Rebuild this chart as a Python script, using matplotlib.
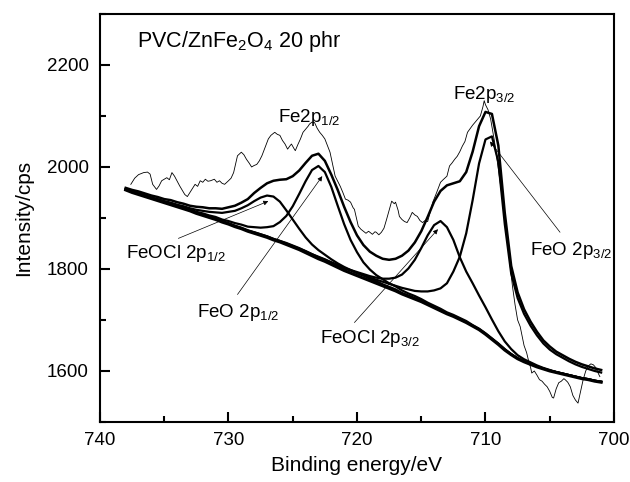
import numpy as np
import matplotlib.pyplot as plt
from matplotlib.ticker import MultipleLocator

plt.rcParams['font.family'] = ['Liberation Sans', 'DejaVu Sans']
plt.rcParams['mathtext.fontset'] = 'custom'
plt.rcParams['mathtext.rm'] = 'Liberation Sans'
plt.rcParams['mathtext.it'] = 'Liberation Sans'

# --- Data ---
# binding energy grid of the fitted curves, eV
energy = [738.0, 737.5, 737.0, 736.5, 736.0, 735.5, 735.0, 734.5, 734.0, 733.5,
          733.0, 732.5, 732.0, 731.5, 731.0, 730.5, 730.0, 729.5, 729.0, 728.5,
          728.0, 727.5, 727.0, 726.5, 726.0, 725.5, 725.0, 724.5, 724.0, 723.5,
          723.0, 722.5, 722.0, 721.5, 721.0, 720.5, 720.0, 719.5, 719.0, 718.5,
          718.0, 717.5, 717.0, 716.5, 716.0, 715.5, 715.0, 714.5, 714.0, 713.5,
          713.0, 712.5, 712.0, 711.5, 711.0, 710.5, 710.0, 709.5, 709.0, 708.5,
          708.0, 707.5, 707.0, 706.5, 706.0, 705.5, 705.0, 704.5, 704.0, 703.5,
          703.0, 702.5, 702.0, 701.5, 701.0]

background = [1955, 1950, 1946, 1942, 1938, 1934, 1930, 1926, 1922, 1918,
              1914, 1909, 1905, 1901, 1897, 1892, 1888, 1883, 1879, 1874,
              1870, 1866, 1862, 1857, 1853, 1848, 1843, 1838, 1832, 1826,
              1820, 1815, 1809, 1803, 1797, 1792, 1787, 1782, 1777, 1772,
              1767, 1762, 1757, 1751, 1746, 1741, 1736, 1730, 1724, 1718,
              1712, 1707, 1701, 1695, 1688, 1681, 1672, 1662, 1652, 1641,
              1632, 1624, 1618, 1613, 1608, 1604, 1600, 1597, 1594, 1591,
              1588, 1585, 1583, 1580, 1578]

feocl_1_2 = [1956, 1951, 1948, 1944, 1940, 1937, 1933, 1930, 1926, 1923,
             1919, 1916, 1914, 1912, 1911, 1910, 1912, 1914, 1919, 1925,
             1933, 1940, 1944, 1942, 1932, 1915, 1897, 1879, 1862, 1848,
             1837, 1828, 1819, 1811, 1804, 1798, 1792, 1787, 1781, 1776,
             1770, 1765, 1760, 1753, 1748, 1743, 1738, 1732, 1725, 1719,
             1713, 1708, 1702, 1696, 1689, 1682, 1673, 1663, 1653, 1642,
             1633, 1625, 1619, 1614, 1609, 1605, 1601, 1598, 1595, 1592,
             1589, 1586, 1584, 1581, 1579]

feo_1_2 = [1956, 1952, 1948, 1944, 1940, 1936, 1932, 1929, 1925, 1921,
           1917, 1912, 1909, 1905, 1902, 1897, 1894, 1890, 1887, 1883,
           1882, 1881, 1882, 1884, 1892, 1904, 1923, 1947, 1972, 1994,
           2002, 1990, 1961, 1924, 1888, 1857, 1833, 1813, 1799, 1788,
           1780, 1772, 1766, 1758, 1752, 1747, 1741, 1734, 1728, 1722,
           1715, 1710, 1704, 1698, 1690, 1683, 1674, 1664, 1654, 1643,
           1633, 1625, 1619, 1614, 1609, 1605, 1601, 1598, 1595, 1592,
           1589, 1586, 1584, 1581, 1579]

feocl_3_2 = [1956, 1951, 1947, 1943, 1939, 1935, 1931, 1927, 1923, 1919,
             1915, 1910, 1906, 1902, 1898, 1893, 1889, 1884, 1880, 1875,
             1872, 1868, 1864, 1859, 1855, 1851, 1846, 1841, 1835, 1829,
             1824, 1819, 1813, 1808, 1802, 1798, 1794, 1790, 1786, 1783,
             1781, 1781, 1783, 1789, 1801, 1818, 1841, 1866, 1886, 1894,
             1882, 1857, 1823, 1795, 1772, 1748, 1725, 1701, 1678, 1658,
             1643, 1631, 1623, 1617, 1611, 1606, 1602, 1598, 1595, 1592,
             1589, 1586, 1584, 1581, 1579]

feo_3_2 = [1956, 1951, 1947, 1943, 1939, 1935, 1931, 1927, 1923, 1919,
           1915, 1911, 1907, 1903, 1899, 1894, 1890, 1885, 1881, 1876,
           1872, 1868, 1864, 1859, 1855, 1850, 1845, 1840, 1835, 1829,
           1823, 1818, 1813, 1807, 1801, 1797, 1792, 1788, 1783, 1779,
           1775, 1771, 1767, 1763, 1760, 1757, 1756, 1756, 1758, 1762,
           1772, 1795, 1824, 1870, 1935, 2007, 2054, 2060, 2010, 1888,
           1791, 1743, 1712, 1689, 1670, 1654, 1642, 1633, 1626, 1619,
           1613, 1608, 1604, 1600, 1597]

envelope = [1959, 1955, 1952, 1948, 1944, 1941, 1937, 1935, 1931, 1928,
            1924, 1922, 1921, 1919, 1919, 1918, 1921, 1924, 1930, 1937,
            1949, 1959, 1968, 1973, 1975, 1976, 1982, 1993, 2008, 2022,
            2026, 2012, 1985, 1955, 1922, 1892, 1866, 1847, 1834, 1826,
            1820, 1818, 1820, 1826, 1836, 1852, 1874, 1902, 1932, 1953,
            1964, 1968, 1972, 1990, 2030, 2080, 2108, 2104, 2042, 1910,
            1806, 1754, 1721, 1697, 1677, 1660, 1648, 1638, 1631, 1624,
            1618, 1613, 1609, 1605, 1602]

# measured spectrum
raw_energy = [737.6, 737.3, 737.0, 736.6, 736.3, 736.1, 735.9, 735.6, 735.4, 735.2,
              734.8, 734.6, 734.4, 734.2, 733.8, 733.4, 733.2, 733.0, 732.6, 732.4,
              732.2, 732.0, 731.8, 731.6, 731.4, 731.1, 730.9, 730.7, 730.5, 730.3,
              730.0, 729.8, 729.6, 729.3, 729.0, 728.8, 728.6, 728.4, 728.2, 728.0,
              727.8, 727.6, 727.4, 727.2, 726.9, 726.7, 726.4, 726.2, 726.0, 725.8,
              725.6, 725.4, 725.2, 725.1, 724.9, 724.8, 724.6, 724.4, 724.2, 724.0,
              723.8, 723.7, 723.5, 723.3, 723.1, 722.9, 722.7, 722.5, 722.3, 722.1,
              721.9, 721.7, 721.5, 721.3, 721.1, 720.9, 720.7, 720.5, 720.3, 720.2,
              720.0, 719.9, 719.7, 719.5, 719.3, 719.1, 719.0, 718.8, 718.6, 718.5,
              718.3, 718.1, 717.9, 717.7, 717.5, 717.3, 717.1, 717.0, 716.8, 716.7,
              716.5, 716.3, 716.1, 715.9, 715.7, 715.5, 715.3, 715.1, 714.9, 714.7,
              714.5, 714.3, 714.1, 713.8, 713.5, 713.3, 713.0, 712.8, 712.6, 712.4,
              712.2, 712.0, 711.8, 711.6, 711.4, 711.2, 711.0, 710.8, 710.6, 710.4,
              710.2, 710.1, 710.0, 709.8, 709.6, 709.3, 709.0, 708.6, 708.3, 708.1,
              707.9, 707.7, 707.5, 707.3, 707.0, 706.8, 706.6, 706.5, 706.4, 706.2,
              706.0, 705.8, 705.6, 705.4, 705.2, 705.0, 704.8, 704.7, 704.5, 704.3,
              704.1, 703.9, 703.8, 703.6, 703.4, 703.2, 703.0, 702.8, 702.6, 702.4,
              702.2, 702.0, 701.8, 701.6, 701.4, 701.2, 701.1]
raw_counts = [1966, 1978, 1985, 1989, 1990, 1986, 1966, 1956, 1963, 1973,
              1979, 1975, 1989, 1982, 1963, 1946, 1942, 1950, 1966, 1962,
              1973, 1970, 1976, 1972, 1973, 1976, 1970, 1973, 1968, 1966,
              1973, 1978, 1989, 2022, 2029, 2024, 2015, 2008, 2000, 2003,
              2005, 2012, 2022, 2035, 2055, 2062, 2068, 2064, 2062, 2052,
              2045, 2035, 2042, 2045, 2036, 2032, 2044, 2055, 2068, 2074,
              2080, 2084, 2088, 2087, 2076, 2068, 2062, 2055, 2042, 2029,
              2005, 1982, 1972, 1962, 1950, 1937, 1935, 1931, 1920, 1917,
              1895, 1884, 1878, 1874, 1870, 1874, 1872, 1868, 1873, 1872,
              1867, 1872, 1880, 1897, 1915, 1933, 1928, 1931, 1915, 1903,
              1897, 1893, 1891, 1900, 1911, 1906, 1903, 1895, 1891, 1895,
              1893, 1912, 1931, 1950, 1970, 1975, 1982, 2002, 2008, 2015,
              2021, 2030, 2041, 2050, 2068, 2075, 2082, 2088, 2094, 2100,
              2118, 2130, 2122, 2112, 2094, 2050, 1996, 1920, 1864, 1810,
              1766, 1730, 1700, 1687, 1650, 1636, 1615, 1608, 1596, 1600,
              1592, 1583, 1580, 1574, 1569, 1560, 1548, 1547, 1565, 1577,
              1580, 1585, 1583, 1578, 1569, 1552, 1543, 1537, 1560, 1583,
              1600, 1610, 1614, 1612, 1606, 1594, 1589]

# labels: (text, text position, arrow start, arrow tip)
peak_labels = [
    ('FeOCl 2p$_{1/2}$', (738.0, 1822), (733.9, 1860), (726.9, 1933)),
    ('FeO 2p$_{1/2}$', (732.45, 1706), (729.3, 1750), (722.7, 1982)),
    ('FeOCl 2p$_{3/2}$', (722.9, 1655), (720.2, 1695), (713.7, 1878)),
    ('FeO 2p$_{3/2}$', (706.5, 1828), (704.2, 1872), (709.65, 2050)),
]

# --- Plot ---
fig = plt.figure(figsize=(6.3, 4.82), dpi=100)
ax = fig.add_axes([0.1587, 0.1245, 0.8159, 0.8465])

ax.plot(raw_energy, raw_counts, color='black', lw=0.6)
for comp in [feocl_1_2, feo_1_2, feocl_3_2, feo_3_2]:
    ax.plot(energy, comp, color='black', lw=1.6)
ax.plot(energy, envelope, color='black', lw=1.8)
ax.plot(energy, background, color='black', lw=2.2)

for text, tpos, start, tip in peak_labels:
    ax.text(tpos[0], tpos[1], text, fontsize=13.5, va='baseline', ha='left')
    ax.annotate('', xy=tip, xytext=start,
                arrowprops=dict(arrowstyle='-|>', lw=0.5, color='black',
                                mutation_scale=7, shrinkA=0, shrinkB=0))

ax.text(726.15, 2088, 'Fe2p$_{1/2}$', fontsize=13.5, va='baseline')
ax.text(712.5, 2133, 'Fe2p$_{3/2}$', fontsize=13.5, va='baseline')
ax.text(737.1, 2235, 'PVC/ZnFe$_2$O$_4$ 20 phr', fontsize=15.5, va='baseline')

ax.set_xlim(740, 700)
ax.set_ylim(1500, 2300)
ax.xaxis.set_major_locator(MultipleLocator(10))
ax.xaxis.set_minor_locator(MultipleLocator(5))
ax.yaxis.set_major_locator(MultipleLocator(200))
ax.yaxis.set_minor_locator(MultipleLocator(100))
ax.tick_params(which='both', direction='in', top=False, right=False,
               width=1.5, labelsize=13.5)
ax.tick_params(axis='x', pad=7)
ax.tick_params(axis='y', pad=8)
ax.tick_params(which='major', length=7)
ax.tick_params(which='minor', length=4)
for sp in ax.spines.values():
    sp.set_linewidth(1.5)

ax.set_xlabel('Binding energy/eV', fontsize=15, labelpad=5)
ax.set_ylabel('Intensity/cps', fontsize=15, labelpad=10)

plt.savefig('out.png', dpi=100)
plt.close()
